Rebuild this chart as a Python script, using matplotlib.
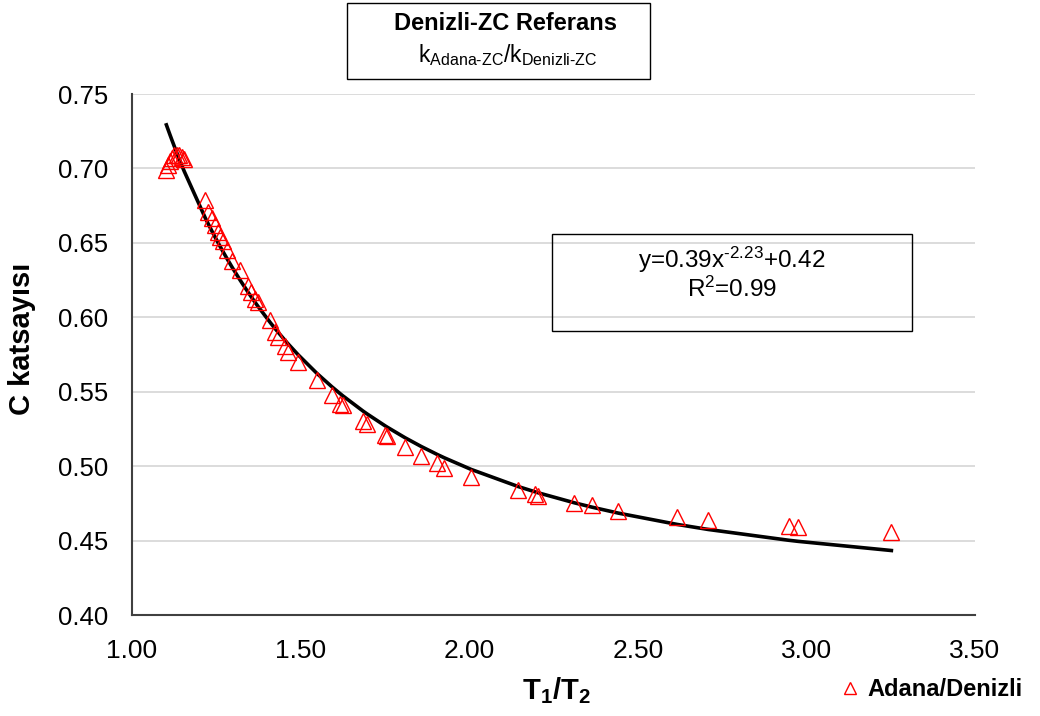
import numpy as np
import matplotlib
matplotlib.use("Agg")
import matplotlib.pyplot as plt
from matplotlib.patches import Rectangle
from matplotlib.lines import Line2D
from matplotlib import font_manager

plt.rcParams['font.family'] = ['Liberation Sans', 'DejaVu Sans']
plt.rcParams['mathtext.fontset'] = 'custom'
plt.rcParams['mathtext.rm'] = 'Liberation Sans'
plt.rcParams['mathtext.it'] = 'Liberation Sans:italic'
plt.rcParams['mathtext.bf'] = 'Liberation Sans:bold'

# Measured C coefficient against the period ratio T1/T2
t_ratio = [1.102, 1.106, 1.112, 1.118, 1.125, 1.132, 1.140, 1.148, 1.155,
           1.217, 1.226, 1.237, 1.246, 1.255, 1.262, 1.270, 1.282, 1.297,
           1.320, 1.344, 1.352, 1.365, 1.374,
           1.410, 1.424, 1.433, 1.454, 1.463, 1.493, 1.549, 1.593, 1.617,
           1.626, 1.685, 1.697, 1.751, 1.757, 1.810, 1.858, 1.905, 1.926,
           2.006, 2.145, 2.196, 2.205, 2.312, 2.365, 2.442, 2.617, 2.709,
           2.947, 2.976, 3.252]
c_coef = [0.699, 0.702, 0.705, 0.707, 0.709, 0.709, 0.709, 0.708, 0.706,
          0.679, 0.671, 0.667, 0.662, 0.657, 0.654, 0.651, 0.645, 0.638,
          0.632, 0.621, 0.617, 0.612, 0.610,
          0.598, 0.590, 0.587, 0.581, 0.577, 0.570, 0.558, 0.548, 0.542,
          0.541, 0.530, 0.528, 0.521, 0.520, 0.513, 0.507, 0.502, 0.499,
          0.493, 0.484, 0.481, 0.480, 0.475, 0.474, 0.470, 0.466, 0.464,
          0.460, 0.459, 0.456]

# Power-law fit y = a * x^b + c
fit_a = 0.39
fit_b = -2.23
fit_c = 0.4152
r_squared = 0.99

x_ticks = [1.00, 1.50, 2.00, 2.50, 3.00, 3.50]
y_ticks = [0.40, 0.45, 0.50, 0.55, 0.60, 0.65, 0.70, 0.75]

W, H = 1040, 716
fig = plt.figure(figsize=(W / 100, H / 100), dpi=100)
ax = fig.add_axes([132 / W, 1 - 615 / H, (975 - 132) / W, (615 - 94) / H])

# trend line through the fitted values
xs = np.array(sorted(t_ratio))
ax.plot(xs, fit_a * xs ** fit_b + fit_c, color='black', lw=2.6, zorder=3,
        solid_joinstyle='round')

ax.plot(t_ratio, c_coef, linestyle='none', marker='^', ms=11,
        markerfacecolor='none', markeredgecolor='#ff0000', markeredgewidth=1.0,
        zorder=4)

ax.set_xlim(1.0, 3.5)
ax.set_ylim(0.40, 0.75)
ax.set_xticks(x_ticks)
ax.set_yticks(y_ticks)

narrow = [f.name for f in font_manager.fontManager.ttflist
          if f.name == 'Liberation Sans Narrow']
xfam = ['Liberation Sans Narrow'] if narrow else ['Liberation Sans']
ax.set_xticklabels([f"{v:.2f}" for v in x_ticks], family=xfam, fontsize=19)
ax.set_yticklabels([f"{v:.2f}" for v in y_ticks], fontsize=18.5)
ax.tick_params(axis='x', length=0, pad=17, colors='black')
ax.tick_params(axis='y', length=0, pad=17, colors='black')
ax.grid(axis='y', color='#d9d9d9', lw=1.3)
ax.set_axisbelow(True)
for s in ['top', 'right']:
    ax.spines[s].set_visible(False)
for s in ['left', 'bottom']:
    ax.spines[s].set_color('#404040')
    ax.spines[s].set_linewidth(1.5)

ax.set_ylabel('C katsayısı', fontsize=21, fontweight='bold')
ax.yaxis.set_label_coords(-0.114, 0.53)
fig.text(556 / W, 1 - 691 / H, r'$\mathbf{T_1/T_2}$', fontsize=21,
         ha='center', va='center')

# title box
fig.patches.append(Rectangle((347 / W, 1 - 79 / H), (650 - 347) / W, (79 - 3) / H,
                             transform=fig.transFigure, fill=False,
                             edgecolor='black', lw=1.0))
fig.text(505 / W, 1 - 24 / H, 'Denizli-ZC Referans', fontsize=17,
         fontweight='bold', ha='center', va='center')
fig.text(508 / W, 1 - 55 / H,
         r'k$_{\mathregular{Adana\text{-}ZC}}$/k$_{\mathregular{Denizli\text{-}ZC}}$',
         fontsize=16.5, ha='center', va='center')

# equation box
fig.patches.append(Rectangle((552 / W, 1 - 331 / H), (912 - 552) / W, (331 - 234) / H,
                             transform=fig.transFigure, fill=False,
                             edgecolor='black', lw=1.0))
exp_txt = f"{fit_b:.2f}".replace('-', r'\text{-}')
eq = rf'y={fit_a:.2f}x$^{{\mathregular{{{exp_txt}}}}}$+{fit_c:.2f}'
fig.text(732 / W, 1 - 260 / H, eq, fontsize=17.5, ha='center', va='center')
fig.text(732 / W, 1 - 289 / H, rf'R$^{{\mathregular{{2}}}}$={r_squared:.2f}',
         fontsize=17.5, ha='center', va='center')

# legend
handle = Line2D([], [], linestyle='none', marker='^', ms=8,
                markerfacecolor='none', markeredgecolor='#ff0000',
                markeredgewidth=1.0)
fig.legend([handle], ['Adana/Denizli'], loc='center left',
           bbox_to_anchor=(841 / W, 1 - 690 / H), frameon=False,
           prop={'weight': 'bold', 'size': 17}, handlelength=0.8,
           handletextpad=0.3, borderpad=0, borderaxespad=0)

fig.savefig('out.png', dpi=100)
